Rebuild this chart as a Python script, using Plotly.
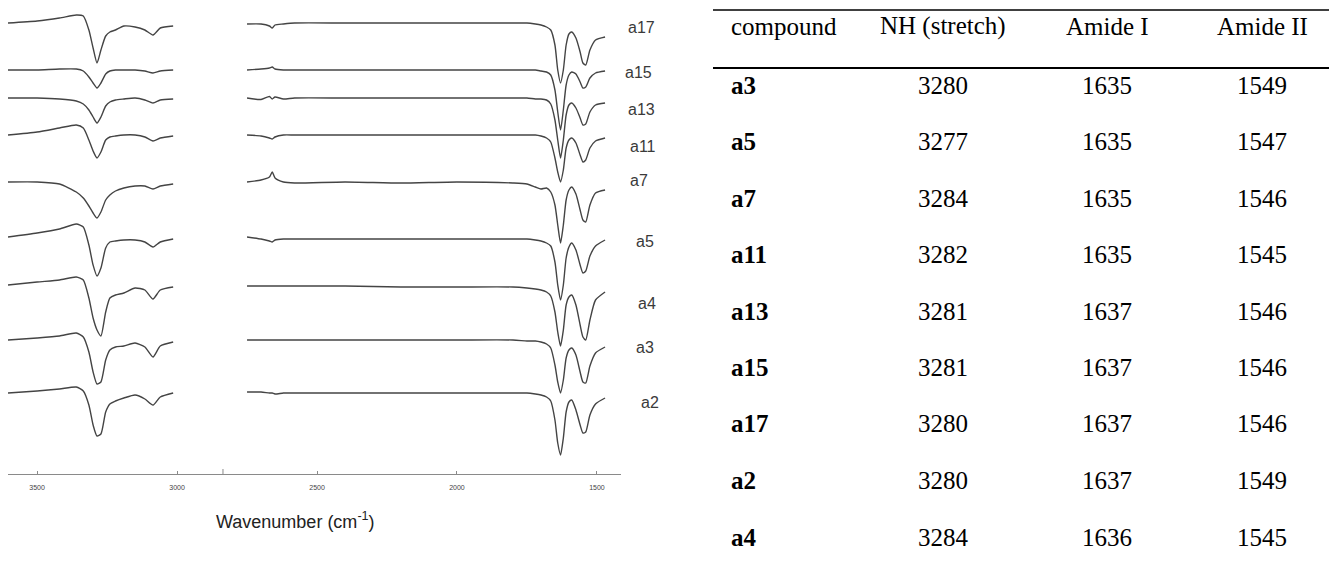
import plotly.graph_objects as go

W, H = 1329, 571

# ---------------- spectra data (arbitrary transmittance units, stacked) ----------------
LEFT_WN = [3604, 3500, 3420, 3360, 3335, 3315, 3300, 3286, 3272, 3255, 3240, 3220, 3190, 3150, 3115, 3086, 3060, 3014]
RIGHT_WN = [2750, 2700, 2670, 2660, 2650, 2620, 2580, 2400, 2200, 2000, 1800, 1750, 1720, 1700, 1680, 1665, 1650,
            1640, 1630, 1620, 1610, 1600, 1590, 1575, 1560, 1550, 1540, 1525, 1505, 1471]

a17_left = [447, 449, 452, 455, 454, 440, 422, 407, 420, 434, 438, 440, 444, 443, 440, 435, 442, 444]
a15_left = [400, 400, 401, 401, 399, 393, 387, 382, 387, 396, 399, 400, 400, 400, 399, 397, 399, 400]
a13_left = [372, 372, 371, 369, 366, 360, 353, 347, 353, 364, 368, 370, 371, 372, 370, 367, 370, 371]
a11_left = [335, 338, 342, 345, 342, 330, 319, 312, 318, 330, 333, 334, 335, 335, 333, 329, 332, 334]
a7_left = [288, 288, 286, 278, 272, 264, 257, 252, 258, 270, 275, 279, 282, 284, 284, 281, 284, 286]
a5_left = [233, 237, 241, 246, 243, 225, 205, 194, 202, 222, 228, 229, 230, 230, 228, 223, 228, 231]
a4_left = [185, 188, 190, 193, 190, 172, 152, 140, 134, 158, 172, 175, 177, 182, 180, 171, 180, 183]
a3_left = [130, 132, 134, 137, 133, 118, 98, 86, 88, 110, 120, 123, 124, 127, 123, 113, 124, 128]
a2_left = [77, 79, 81, 83, 79, 65, 45, 34, 36, 58, 66, 69, 72, 75, 71, 65, 73, 77]

a17_right = [446, 446, 444, 442, 445, 446, 447, 447, 447, 447, 447, 447, 446, 445, 443, 440, 425, 400, 387, 400,
             425, 436, 438, 432, 418, 407, 405, 420, 430, 433]
a15_right = [400, 401, 402, 403, 401, 400, 400, 400, 400, 400, 400, 400, 400, 399, 398, 395, 380, 358, 340, 360,
             385, 395, 398, 396, 388, 382, 383, 392, 397, 399]
a13_right = [372, 370.5, 373.5, 371, 373, 371, 372, 372, 372, 372, 372, 372, 371, 371, 370, 366, 350, 330, 312, 330,
             355, 365, 367, 362, 352, 345, 346, 358, 365, 367]
a11_right = [335, 334, 332, 331, 333, 335, 335, 335, 335, 335, 335, 335, 335, 334, 332, 328, 312, 298, 288, 300,
             322, 330, 332, 327, 315, 308, 310, 322, 329, 332]
a7_right = [288, 290, 293, 298, 292, 288, 287, 288, 287, 288, 287, 286, 283, 281, 282, 278, 265, 245, 227, 245,
            270, 280, 283, 276, 260, 250, 248, 265, 277, 280]
a5_right = [233, 231, 229, 228, 230, 231, 231, 231, 231, 231, 231, 231, 230, 229, 227, 224, 208, 185, 170, 185,
            212, 223, 227, 220, 205, 197, 199, 214, 224, 230]
a4_right = [184, 184, 184, 184, 184, 184, 184, 184, 183, 183, 183, 182, 181, 180, 178, 174, 158, 138, 124, 140,
            165, 173, 175, 165, 145, 133, 130, 150, 170, 178]
a3_right = [130, 130, 130, 130, 130, 130, 130, 130, 130, 130, 130, 129, 129, 128, 126, 122, 105, 88, 77, 90,
            112, 120, 122, 115, 98, 88, 87, 104, 117, 123]
a2_right = [78, 78, 77, 77, 76, 77, 77, 77, 77, 77, 77, 77, 76, 75, 73, 69, 50, 27, 15, 32,
            58, 68, 70, 60, 45, 37, 38, 55, 66, 72]

SPECTRA_NAMES = ["a17", "a15", "a13", "a11", "a7", "a5", "a4", "a3", "a2"]
SPECTRA_LEFT = [a17_left, a15_left, a13_left, a11_left, a7_left, a5_left, a4_left, a3_left, a2_left]
SPECTRA_RIGHT = [a17_right, a15_right, a13_right, a11_right, a7_right, a5_right, a4_right, a3_right, a2_right]

X_TICKS = [3500, 3000, 2500, 2000, 1500]
X_TICK_LABELS = ["3500", "3000", "2500", "2000", "1500"]
BREAK_WN = 2836

# ---------------- table data ----------------
TABLE_HEADERS = ["compound", "NH (stretch)", "Amide I", "Amide II"]
TABLE_COMPOUNDS = ["a3", "a5", "a7", "a11", "a13", "a15", "a17", "a2", "a4"]
NH_STRETCH = [3280, 3277, 3284, 3282, 3281, 3281, 3280, 3280, 3284]
AMIDE_I = [1635, 1635, 1635, 1635, 1637, 1637, 1637, 1637, 1636]
AMIDE_II = [1549, 1547, 1546, 1545, 1546, 1546, 1546, 1549, 1545]


def px(x):
    return x / W


def py(y):
    return 1 - y / H


fig = go.Figure()
LINE = dict(color="#444444", width=1.4, shape="spline", smoothing=0.6)
for name, left, right in zip(SPECTRA_NAMES, SPECTRA_LEFT, SPECTRA_RIGHT):
    fig.add_trace(go.Scatter(x=LEFT_WN, y=left, mode="lines", line=LINE, name=name, showlegend=False,
                             hoverinfo="skip"))
    fig.add_trace(go.Scatter(x=RIGHT_WN, y=right, mode="lines", line=LINE, name=name, showlegend=False,
                             hoverinfo="skip"))

AXIS_Y = 474
fig.update_layout(
    width=W, height=H,
    margin=dict(l=0, r=0, t=0, b=0),
    paper_bgcolor="white", plot_bgcolor="white",
    xaxis=dict(domain=[px(8), px(621)], range=[3604, 1414], showgrid=False, zeroline=False,
               showline=True, linecolor="#8a8a8a", linewidth=1,
               tickvals=X_TICKS, ticktext=X_TICK_LABELS,
               ticks="inside", ticklen=3, tickcolor="#8a8a8a", tickwidth=1,
               ticklabelstandoff=7,
               tickfont=dict(family="Arial, Liberation Sans", size=7, color="#444444"),
               anchor="y"),
    yaxis=dict(domain=[py(AXIS_Y), 1], range=[470 - AXIS_Y, 470], visible=False, showgrid=False,
               zeroline=False),
)

annotations = []
# spectrum labels
label_pos = {"a17": (641, 28), "a15": (638, 72), "a13": (641, 110), "a11": (643, 147), "a7": (639, 180),
             "a5": (645, 241), "a4": (647, 303), "a3": (645, 347), "a2": (650, 402)}
for name in SPECTRA_NAMES:
    x0, y0 = label_pos[name]
    annotations.append(dict(x=px(x0), y=py(y0), xref="paper", yref="paper", text=name, showarrow=False,
                            xanchor="center", yanchor="middle",
                            font=dict(family="Liberation Sans Narrow, Arial Narrow, Liberation Sans, Arial",
                                      size=16, color="#3a3a3a")))
# axis title
annotations.append(dict(x=px(295), y=py(520), xref="paper", yref="paper",
                        text="Wavenumber (cm<sup>-1</sup>)", showarrow=False, xanchor="center", yanchor="middle",
                        font=dict(family="Arial, Liberation Sans", size=18, color="#222")))

# table
SERIF = "Times New Roman, Liberation Serif, serif"
TFONT = dict(family=SERIF, size=25, color="black")
col_x = [729, 943, 1107, 1262]
annotations.append(dict(x=px(col_x[0]), y=py(26), xref="paper", yref="paper", text=TABLE_HEADERS[0],
                        showarrow=False, xanchor="left", yanchor="middle", font=TFONT))
for cx, htxt in zip(col_x[1:], TABLE_HEADERS[1:]):
    annotations.append(dict(x=px(cx), y=py(26), xref="paper", yref="paper", text=htxt,
                            showarrow=False, xanchor="center", yanchor="middle", font=TFONT))
row0, row_step = 85, 56.5
for i, comp in enumerate(TABLE_COMPOUNDS):
    yy = py(row0 + i * row_step)
    annotations.append(dict(x=px(col_x[0]), y=yy, xref="paper", yref="paper", text="<b>%s</b>" % comp,
                            showarrow=False, xanchor="left", yanchor="middle", font=TFONT))
    for cx, val in zip(col_x[1:], (NH_STRETCH[i], AMIDE_I[i], AMIDE_II[i])):
        annotations.append(dict(x=px(cx), y=yy, xref="paper", yref="paper", text=str(val),
                                showarrow=False, xanchor="center", yanchor="middle", font=TFONT))

shapes = [
    # axis-break marker
    dict(type="line", xref="x", yref="paper", x0=BREAK_WN, x1=BREAK_WN, y0=py(AXIS_Y), y1=py(AXIS_Y - 5),
         line=dict(color="#8a8a8a", width=1)),
    dict(type="line", xref="paper", yref="paper", x0=px(713), x1=1, y0=py(10), y1=py(10),
         line=dict(color="black", width=1.6)),
    dict(type="line", xref="paper", yref="paper", x0=px(713), x1=1, y0=py(68), y1=py(68),
         line=dict(color="black", width=2.2)),
]

fig.update_layout(annotations=annotations, shapes=shapes)
fig.write_html("out.html")
